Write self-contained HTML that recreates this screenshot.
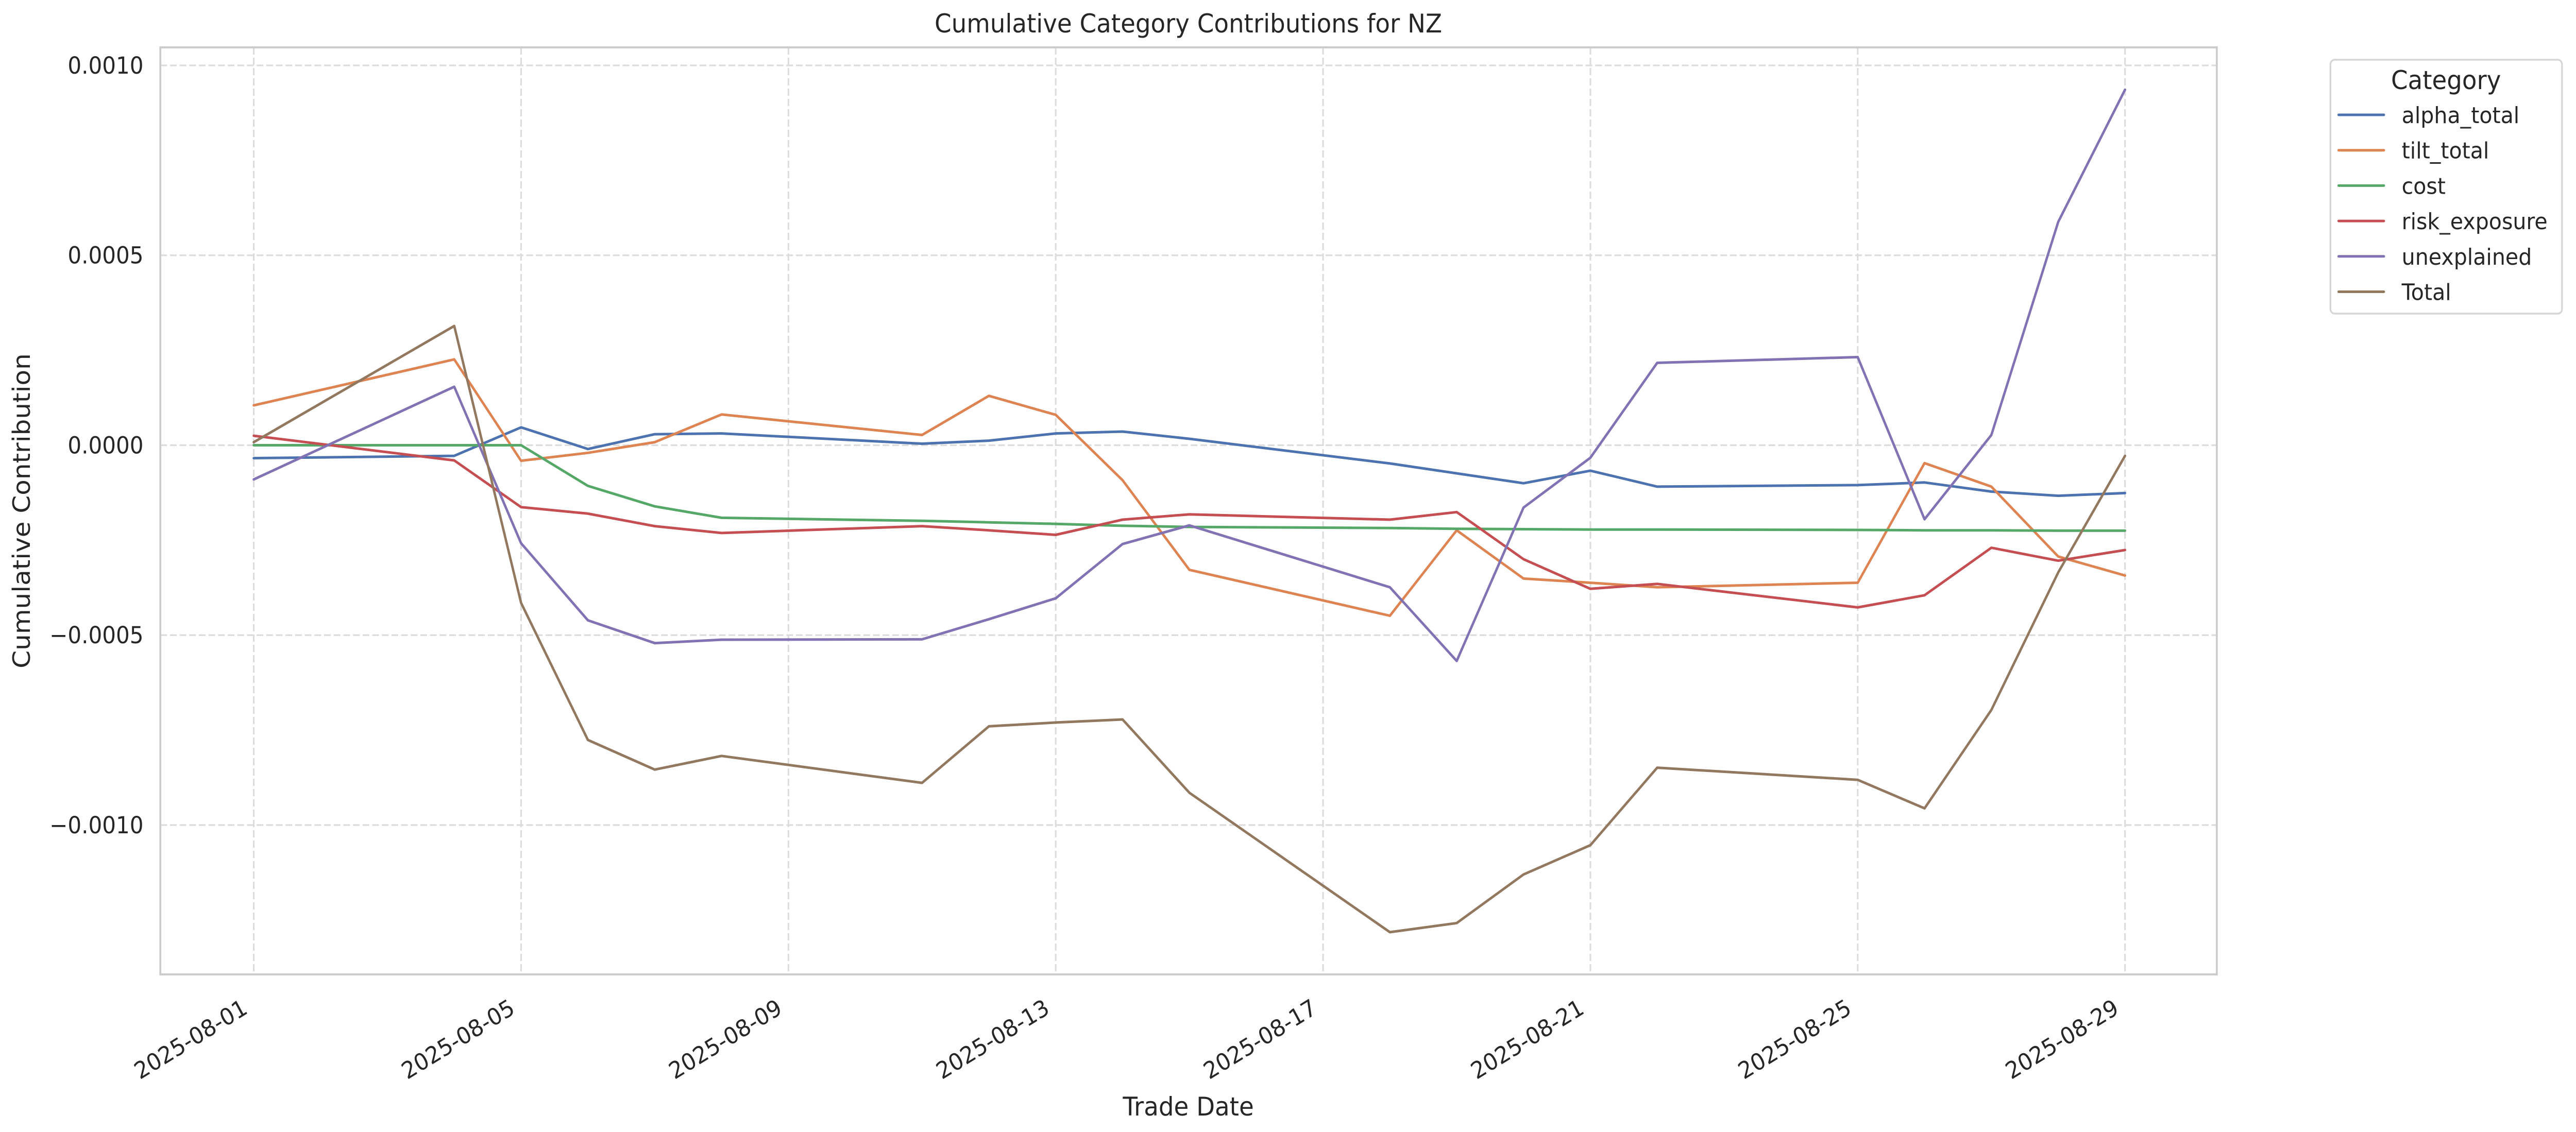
<!DOCTYPE html>
<html><head><meta charset="utf-8"><style>
html,body{margin:0;padding:0;background:#fff;overflow:hidden;width:100%;height:100%;}
svg{display:block;font-family:"DejaVu Sans","Liberation Sans",sans-serif;width:100vw;height:100vh;}
</style></head><body>
<svg id="s" viewBox="0 0 5350 2198" preserveAspectRatio="none" xmlns="http://www.w3.org/2000/svg">
<rect width="5350" height="2198" fill="#fff"/>
<g id="grid" stroke="#dcdcdc" stroke-width="3.3" stroke-dasharray="14 6" fill="none"></g>
<g id="lines" fill="none" stroke-width="5" stroke-linejoin="round" stroke-linecap="round"></g>
<rect x="333" y="92" width="4271" height="1800" fill="none" stroke="#cccccc" stroke-width="4"/>
<g id="ylab" font-size="45" fill="#262626" text-anchor="end"></g>
<g id="xlab" font-size="45" fill="#262626" text-anchor="end"></g>
<text x="2468" y="63" font-size="50" fill="#262626" text-anchor="middle">Cumulative Category Contributions for NZ</text>
<text x="2468" y="2166" font-size="50" fill="#262626" text-anchor="middle">Trade Date</text>
<text x="0" y="0" font-size="50" fill="#262626" text-anchor="middle" transform="translate(62,992) rotate(-90)">Cumulative Contribution</text>
<rect x="4840" y="116" width="481" height="493" rx="9" fill="#fff" stroke="#d6d6d6" stroke-width="3.5"/>
<text x="5080" y="173" font-size="50" fill="#262626" text-anchor="middle">Category</text>
<g id="leg" font-size="44" fill="#262626"></g>
</svg>
<script>
(function(){
var NS="http://www.w3.org/2000/svg";
function el(p,t,a,txt){var e=document.createElementNS(NS,t);for(var k in a)e.setAttribute(k,a[k]);if(txt!=null)e.textContent=txt;p.appendChild(e);return e;}
var X=function(d){return 527+(d-1)*138.8;};
var Y=function(v){return 864.5-v*737500;};
var g=document.getElementById('grid');
[1,5,9,13,17,21,25,29].forEach(function(d){el(g,'line',{x1:X(d),x2:X(d),y1:92,y2:1892});});
var yt=[[0.001,"0.0010"],[0.0005,"0.0005"],[0,"0.0000"],[-0.0005,"\u22120.0005"],[-0.001,"\u22120.0010"]];
yt.forEach(function(t){el(g,'line',{x1:333,x2:4604,y1:Y(t[0]),y2:Y(t[0])});el(document.getElementById('ylab'),'text',{x:298,y:Y(t[0])+16},t[1]);});
var xl=document.getElementById('xlab');
[1,5,9,13,17,21,25,29].forEach(function(d){var x=X(d)-10,y=1966;var dd=(d<10?"0":"")+d;el(xl,'text',{x:x,y:y,transform:'rotate(-30 '+x+' '+y+')'},"2025-08-"+dd);});
var days=[1,4,5,6,7,8,11,12,13,14,15,18,19,20,21,22,25,26,27,28,29];
var S=[
["alpha_total","#4c72b0",[-0.000034,-0.000028,0.000047,-0.00001,0.000029,0.000031,0.000004,0.000012,0.000031,0.000036,0.000017,-0.000048,-0.000074,-0.0001,-0.000067,-0.000109,-0.000105,-0.000098,-0.000122,-0.000133,-0.000126]],
["tilt_total","#dd8452",[0.000105,0.000226,-0.000041,-0.00002,0.000008,0.000081,0.000027,0.00013,0.00008,-0.000092,-0.000328,-0.000449,-0.000224,-0.000351,-0.000362,-0.000374,-0.000362,-0.000047,-0.000109,-0.000293,-0.000343]],
["cost","#55a868",[0,0,0,-0.000107,-0.000161,-0.000191,-0.000199,-0.000203,-0.000207,-0.000212,-0.000215,-0.000218,-0.00022,-0.000221,-0.000222,-0.000222,-0.000223,-0.000224,-0.000224,-0.000225,-0.000225]],
["risk_exposure","#c44e52",[0.000025,-0.00004,-0.000163,-0.00018,-0.000213,-0.000231,-0.000213,-0.000224,-0.000236,-0.000196,-0.000182,-0.000196,-0.000176,-0.0003,-0.000378,-0.000365,-0.000427,-0.000395,-0.00027,-0.000304,-0.000276]],
["unexplained","#8172b3",[-0.00009,0.000154,-0.000258,-0.000461,-0.000521,-0.000512,-0.000511,-0.000458,-0.000403,-0.00026,-0.000211,-0.000374,-0.000568,-0.000164,-0.000033,0.000217,0.000232,-0.000195,0.000027,0.000588,0.000936]],
["Total","#937860",[0.000008,0.000314,-0.000415,-0.000776,-0.000854,-0.000818,-0.000889,-0.00074,-0.00073,-0.000722,-0.000915,-0.001282,-0.001258,-0.00113,-0.001053,-0.000849,-0.000881,-0.000956,-0.000697,-0.000335,-0.000028]]
];
var L=document.getElementById('lines'),lg=document.getElementById('leg');
S.forEach(function(s,i){
 var p=s[2].map(function(v,j){return X(days[j]).toFixed(1)+","+Y(v).toFixed(1);}).join(" ");
 el(L,'polyline',{points:p,stroke:s[1]});
 var ly=223+i*68.7;
 el(lg,'line',{x1:4857,x2:4951,y1:ly,y2:ly,stroke:s[1],'stroke-width':5,'stroke-linecap':'round'});
 el(lg,'text',{x:4988,y:ly+16},s[0]);
});
})();
</script>
</body></html>
